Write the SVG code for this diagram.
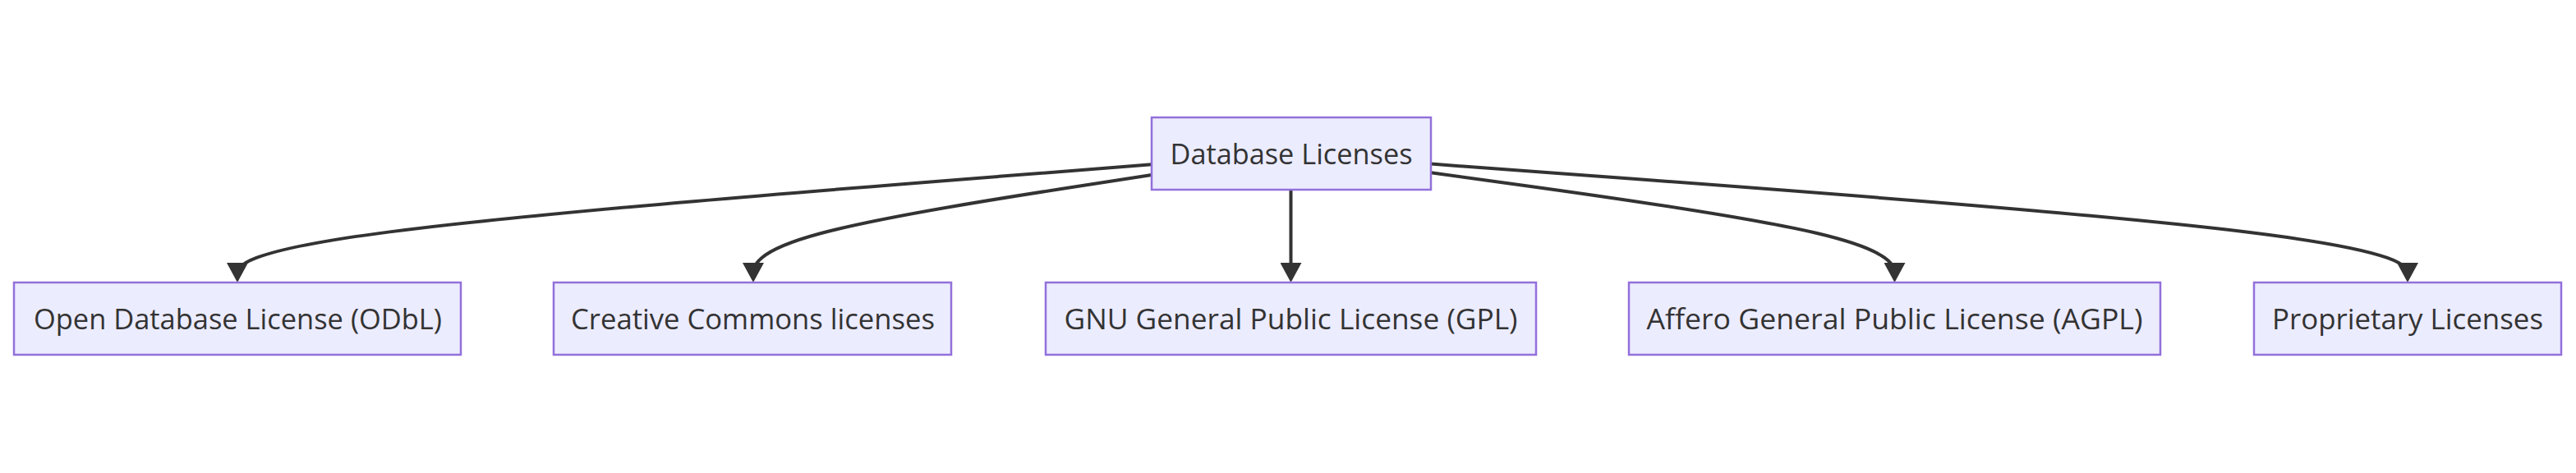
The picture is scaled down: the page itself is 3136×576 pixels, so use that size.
<svg xmlns="http://www.w3.org/2000/svg" width="3136" height="576" viewBox="0 0 3136 576">
<style>
.node rect{fill:#ECECFF;stroke:#9370DB;stroke-width:2.5px;}
.node text{fill:#333333;font-family:"Open Sans","Liberation Sans",sans-serif;font-size:34px;text-anchor:middle;}
.edge{fill:none;stroke:#333333;stroke-width:4px;marker-end:url(#arrow);}
</style>
<defs>
<marker id="arrow" viewBox="0 0 24 26" refX="14.6" refY="13" markerWidth="24" markerHeight="26" markerUnits="userSpaceOnUse" orient="auto">
<path d="M0,0 L24,13 L0,26 z" fill="#333333"/>
</marker>
</defs>
<rect width="3136" height="576" fill="#ffffff"/>
<g id="connectors">
<path class="edge" d="M1402,200.3 L1216.5,214.83 C1031,229.37 660,258.43 474.5,282.38 C289,306.33 289,325.17 289,334.58"/>
<path class="edge" d="M1402,213.1 L1321.17,225.5 C1240.33,237.9 1078.67,262.7 997.83,284.52 C917,306.33 917,325.17 917,334.58"/>
<path class="edge" d="M1571.5,231 L1571.5,334.58"/>
<path class="edge" d="M1742,210.3 L1836,223.17 C1930,236.03 2118,261.77 2212,284.05 C2306.5,306.33 2306.5,325.17 2306.5,334.58"/>
<path class="edge" d="M1742,199.6 L1940.17,214.25 C2138.33,228.9 2534.67,258.2 2732.83,282.27 C2931,306.33 2931,325.17 2931,334.58"/>
</g>
<g id="db" class="node"><rect x="1402" y="143" width="340" height="88"/><text x="1572" y="199.5" textLength="295" lengthAdjust="spacingAndGlyphs">Database Licenses</text></g>
<g id="odbl" class="node"><rect x="17" y="344" width="544" height="88"/><text x="289.5" y="400.5" textLength="497" lengthAdjust="spacingAndGlyphs">Open Database License (ODbL)</text></g>
<g id="cc" class="node"><rect x="674" y="344" width="484" height="88"/><text x="916.5" y="400.5" textLength="443" lengthAdjust="spacingAndGlyphs">Creative Commons licenses</text></g>
<g id="gpl" class="node"><rect x="1273" y="344" width="597" height="88"/><text x="1571.5" y="400.5" textLength="552" lengthAdjust="spacingAndGlyphs">GNU General Public License (GPL)</text></g>
<g id="agpl" class="node"><rect x="1983" y="344" width="647" height="88"/><text x="2306.5" y="400.5" textLength="604" lengthAdjust="spacingAndGlyphs">Affero General Public License (AGPL)</text></g>
<g id="prop" class="node"><rect x="2744" y="344" width="374" height="88"/><text x="2931" y="400.5" textLength="330" lengthAdjust="spacingAndGlyphs">Proprietary Licenses</text></g>
</svg>
